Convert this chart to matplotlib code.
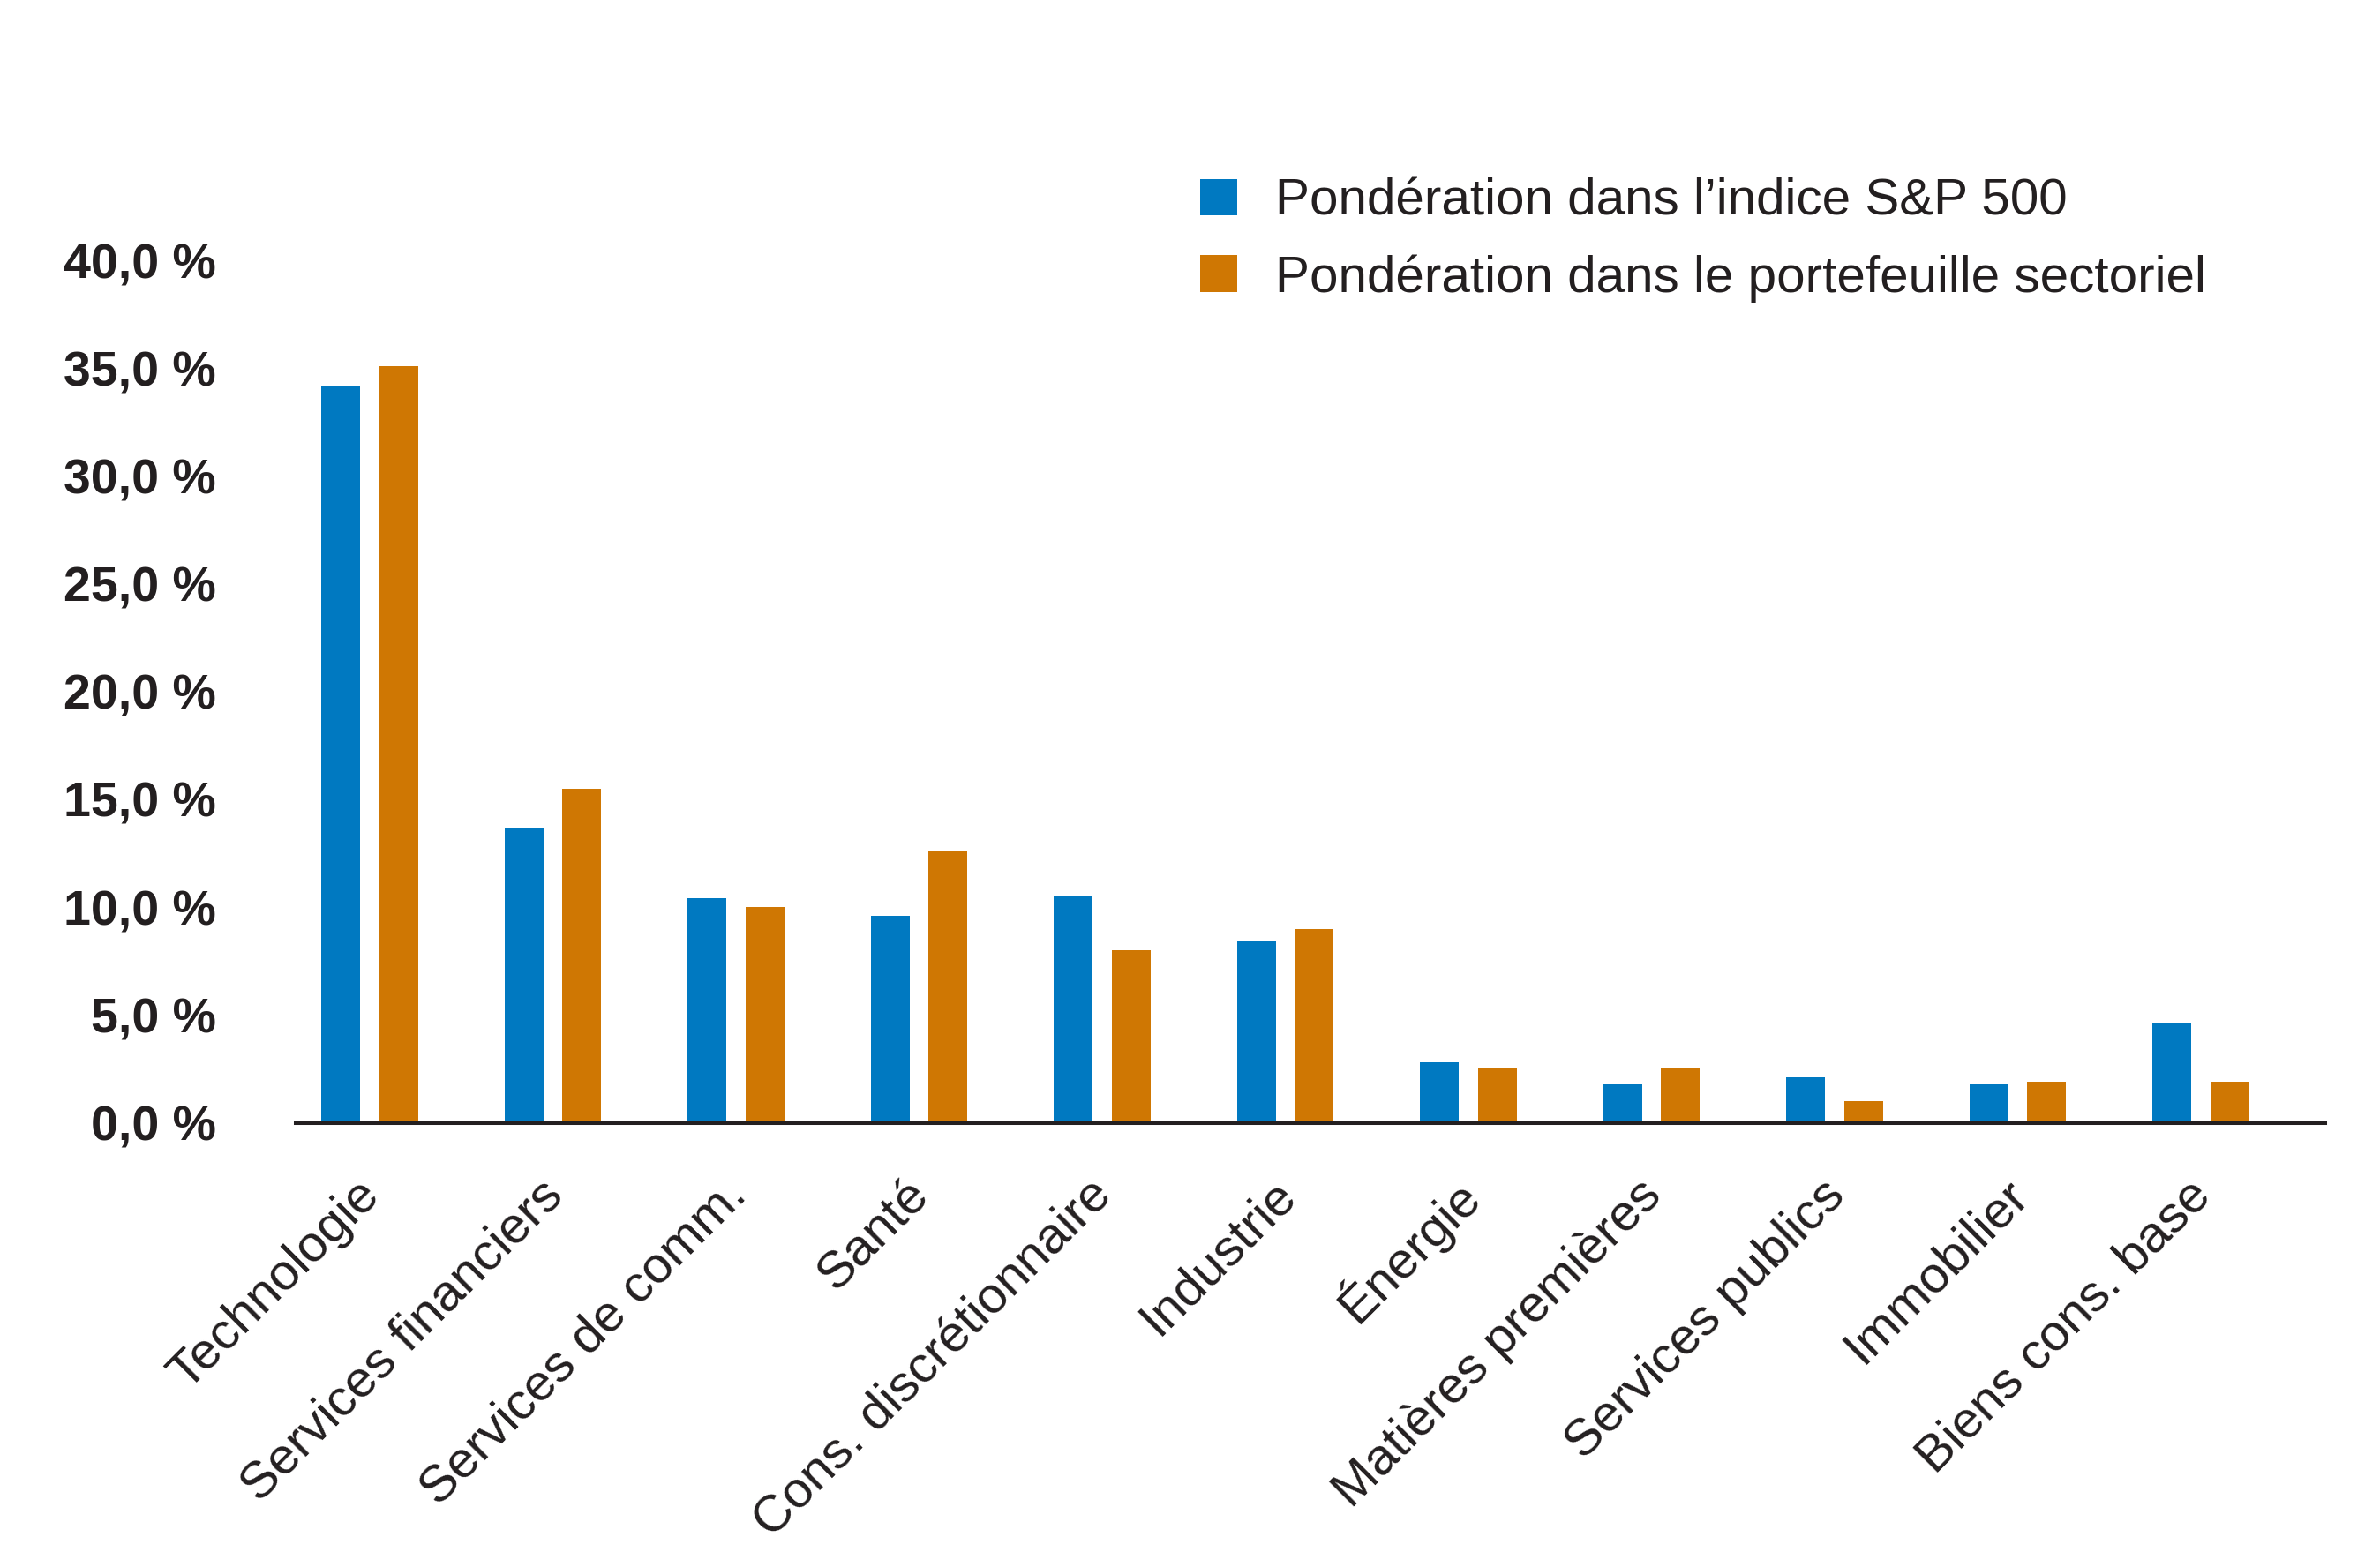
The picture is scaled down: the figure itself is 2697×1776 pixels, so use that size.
import numpy as np
import matplotlib
matplotlib.use("Agg")
import matplotlib.pyplot as plt
import matplotlib.transforms as mtransforms
from matplotlib.patches import Patch

# ------------------------------------------------------------------
# Données
# ------------------------------------------------------------------
secteurs = ["Technologie", "Services financiers", "Services de comm.", "Santé",
            "Cons. discrétionnaire", "Industrie", "Énergie", "Matières premières",
            "Services publics", "Immobilier", "Biens cons. base"]
poids_sp500 = [34.2, 13.7, 10.4, 9.6, 10.5, 8.4, 2.8, 1.8, 2.1, 1.8, 4.6]
poids_portefeuille = [35.1, 15.5, 10.0, 12.6, 8.0, 9.0, 2.5, 2.5, 1.0, 1.9, 1.9]

y_ticks = [0, 5, 10, 15, 20, 25, 30, 35, 40]
y_tick_labels = ["0,0 %", "5,0 %", "10,0 %", "15,0 %", "20,0 %", "25,0 %",
                 "30,0 %", "35,0 %", "40,0 %"]

legende = ["Pondération dans l\u2019indice S&P 500",
           "Pondération dans le portefeuille sectoriel"]

BLEU = "#0079C1"
ORANGE = "#CF7703"
TEXTE = "#231F20"

plt.rcParams['font.family'] = ['Liberation Sans', 'DejaVu Sans']

# ------------------------------------------------------------------
# Figure
# ------------------------------------------------------------------
W, H, DPI = 2697, 1776, 100
fig = plt.figure(figsize=(W / DPI, H / DPI), dpi=DPI)
ax = fig.add_axes([335 / W, 1 - 1272.5 / H, (2635 - 335) / W, (1272.5 - 295) / H])

x = np.arange(len(secteurs))
largeur = 0.212
decalage = 0.158

ax.bar(x - decalage, poids_sp500, width=largeur, color=BLEU, label=legende[0])
ax.bar(x + decalage, poids_portefeuille, width=largeur, color=ORANGE, label=legende[1])

ax.set_xlim(-0.405, 10.68)
ax.set_ylim(0, 40)

for s in ["top", "right", "left"]:
    ax.spines[s].set_visible(False)
ax.spines["bottom"].set_linewidth(2.9)
ax.spines["bottom"].set_color(TEXTE)

ax.set_yticks(y_ticks)
ax.set_yticklabels(y_tick_labels, fontsize=40, fontweight="bold", color=TEXTE)
ax.tick_params(axis="y", length=0, pad=65)

ax.set_xticks(x)
ax.set_xticklabels(secteurs, fontsize=42, color=TEXTE, rotation=45,
                   ha="right", va="center", rotation_mode="anchor")
ax.tick_params(axis="x", length=0, pad=53)
decal = mtransforms.ScaledTranslation(3 / DPI, 0, fig.dpi_scale_trans)
for lab in ax.get_xticklabels():
    lab.set_transform(lab.get_transform() + decal)

# Légende
poignees = [Patch(facecolor=BLEU), Patch(facecolor=ORANGE)]
leg = fig.legend(poignees, legende, loc="upper left",
                 bbox_to_anchor=(1360 / W, 1 - 202 / H),
                 frameon=False, fontsize=42, borderpad=0, borderaxespad=0,
                 handlelength=0.72, handleheight=0.72, handletextpad=0.74,
                 labelspacing=0.55)
for t in leg.get_texts():
    t.set_color(TEXTE)

fig.savefig("out.png", dpi=DPI)
